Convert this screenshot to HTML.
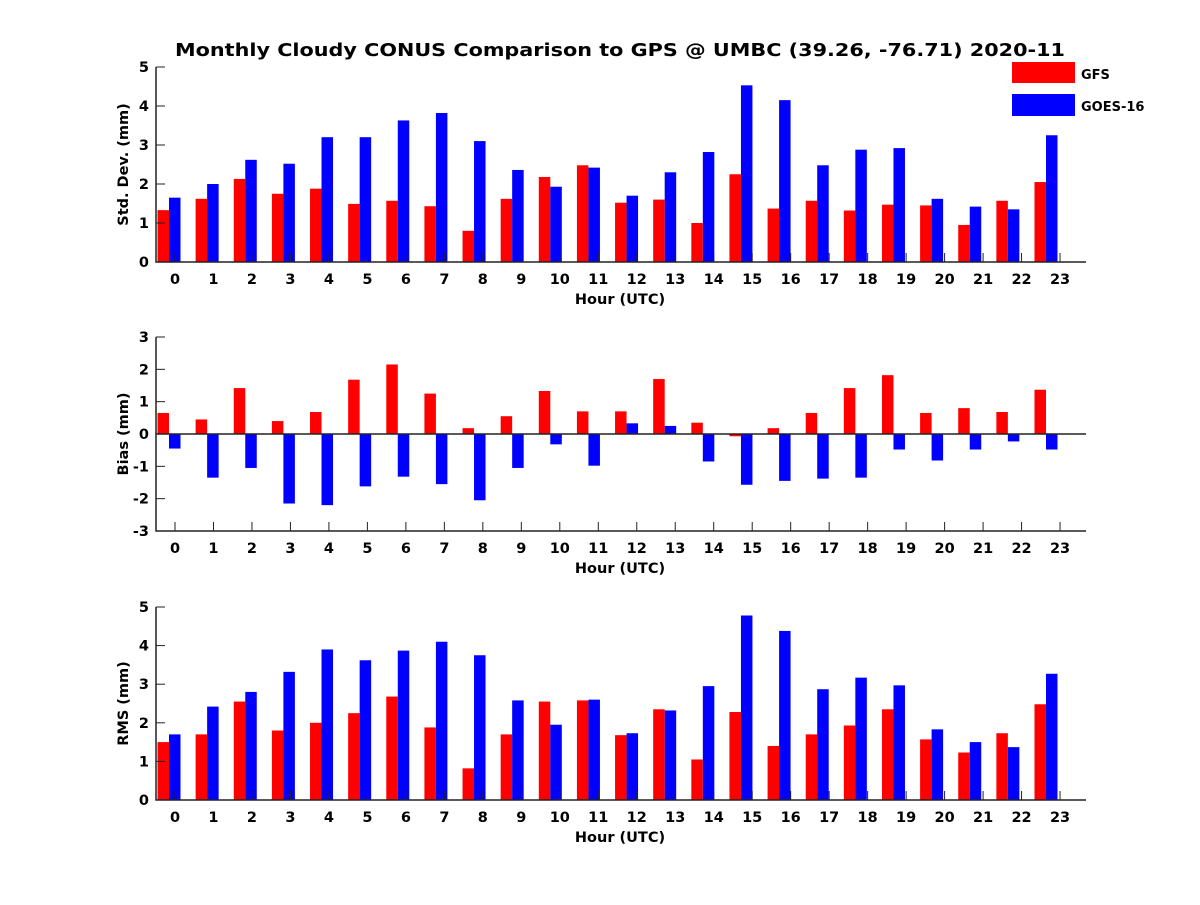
<!DOCTYPE html>
<html><head><meta charset="utf-8"><style>
body{margin:0;background:#fff}
svg text{font-family:"DejaVu Sans","Liberation Sans",sans-serif;font-weight:bold}
</style></head><body>
<svg id="chart" width="1200" height="900" xmlns="http://www.w3.org/2000/svg">
<rect width="1200" height="900" fill="#fff"/>
<text x="620" y="56" font-size="17.5" text-anchor="middle" textLength="890" lengthAdjust="spacingAndGlyphs">Monthly Cloudy CONUS Comparison to GPS @ UMBC (39.26, -76.71) 2020-11</text>
<g>
<rect x="1012" y="62" width="63" height="21" fill="#ff0000"/>
<text x="1081" y="79" font-size="13">GFS</text>
<rect x="1012" y="94" width="63" height="22" fill="#0000ff"/>
<text x="1081" y="111" font-size="13">GOES-16</text>
</g>
</svg>
<script>
const hours=[0,1,2,3,4,5,6,7,8,9,10,11,12,13,14,15,16,17,18,19,20,21,22,23];
const stdGFS=[1.33,1.62,2.13,1.75,1.88,1.49,1.57,1.43,0.8,1.62,2.18,2.48,1.52,1.6,1.0,2.25,1.37,1.57,1.32,1.47,1.45,0.95,1.57,2.05];
const stdGOES=[1.65,2.0,2.62,2.52,3.2,3.2,3.63,3.82,3.1,2.36,1.93,2.42,1.7,2.3,2.82,4.53,4.15,2.48,2.88,2.92,1.62,1.42,1.35,3.25];
const biasGFS=[0.65,0.45,1.42,0.4,0.68,1.68,2.15,1.25,0.18,0.55,1.33,0.7,0.7,1.7,0.35,-0.07,0.18,0.65,1.42,1.82,0.65,0.8,0.68,1.37];
const biasGOES=[-0.45,-1.35,-1.05,-2.15,-2.2,-1.62,-1.32,-1.55,-2.05,-1.05,-0.32,-0.98,0.33,0.25,-0.85,-1.57,-1.45,-1.38,-1.35,-0.48,-0.82,-0.48,-0.23,-0.48];
const rmsGFS=[1.5,1.7,2.55,1.8,2.0,2.25,2.68,1.88,0.82,1.7,2.55,2.58,1.68,2.35,1.05,2.28,1.4,1.7,1.93,2.35,1.57,1.23,1.73,2.48];
const rmsGOES=[1.7,2.42,2.8,3.32,3.9,3.62,3.87,4.1,3.75,2.58,1.95,2.6,1.73,2.32,2.95,4.78,4.38,2.87,3.17,2.97,1.83,1.5,1.37,3.27];
const stdTicks=[0,1,2,3,4,5];
const biasTicks=[-3,-2,-1,0,1,2,3];
const rmsTicks=[0,1,2,3,4,5];

const NS="http://www.w3.org/2000/svg";
const svg=document.getElementById('chart');
function mk(tag,attrs,parent){const e=document.createElementNS(NS,tag);for(const k in attrs)e.setAttribute(k,attrs[k]);(parent||svg).appendChild(e);return e;}
const xL=156,xR=1086;
function xBar(h){return 169+h*38.13;}
function xTick(h){return 175+h*38.48;}
function panel(name,top,bottom,ymin,ymax,ticks,a,b,ylabel,zeroLine){
  const g=mk('g',{});
  
  
  const y=v=>bottom-(v-ymin)/(ymax-ymin)*(bottom-top);
  const bw=11.5;
  hours.forEach((h,i)=>{
    const y0=y(Math.max(ymin,0));
    [[a[i],'#ff0000',-bw,'gfs'],[b[i],'#0000ff',0,'goes']].forEach(([v,c,off,s])=>{
      const yy=y(v);
      const r=mk('rect',{x:xBar(h)+off,y:Math.min(yy,y0),width:bw,height:Math.abs(y0-yy),fill:c},g);
      
      
    });
  });
  if(zeroLine){const z=mk('line',{x1:xL,x2:xR,y1:y(0),y2:y(0),stroke:'#222','stroke-width':1.5},g);
    }
  const ax=mk('path',{d:`M${xL},${top} V${bottom} H${xR}`,fill:'none',stroke:'#222','stroke-width':1.5},g);
  
  ticks.forEach(t=>{
    mk('line',{x1:xL,x2:xL+9,y1:y(t),y2:y(t),stroke:'#222','stroke-width':1},g);
    const tx=mk('text',{x:xL-7,y:y(t)+5,'font-size':14.5,'text-anchor':'end'},g);
    tx.textContent=t;
    
  });
  hours.forEach(h=>{
    mk('line',{x1:xTick(h),x2:xTick(h),y1:bottom,y2:bottom-9,stroke:'#222','stroke-width':1},g);
    const tx=mk('text',{x:xTick(h),y:bottom+22,'font-size':14.5,'text-anchor':'middle'},g);
    tx.textContent=h;
    
  });
  const xl=mk('text',{x:620,y:bottom+42,'font-size':14.5,'text-anchor':'middle'},g);
  xl.textContent='Hour (UTC)';
  
  const cy=(top+bottom)/2;
  const yl=mk('text',{x:128,y:cy,'font-size':14.5,'text-anchor':'middle',transform:`rotate(-90 128 ${cy})`},g);
  yl.textContent=ylabel;
  
}
panel('std-dev',67,262,0,5,stdTicks,stdGFS,stdGOES,'Std. Dev. (mm)',false);
panel('bias',337,531,-3,3,biasTicks,biasGFS,biasGOES,'Bias (mm)',true);
panel('rms',607,800,0,5,rmsTicks,rmsGFS,rmsGOES,'RMS (mm)',false);
</script>
</body></html>
